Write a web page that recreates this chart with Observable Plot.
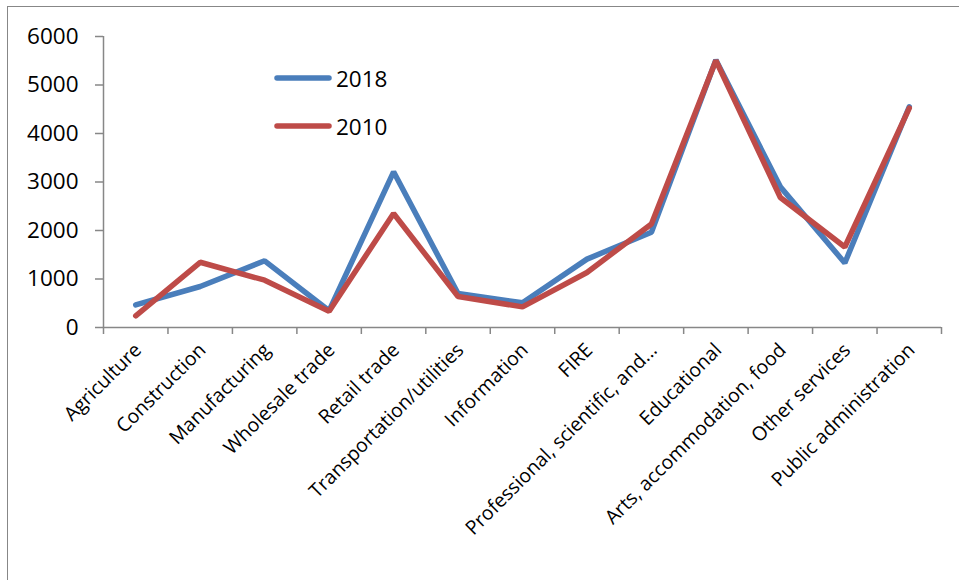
<!DOCTYPE html>
<html>
<head>
<meta charset="utf-8">
<script src="https://cdn.jsdelivr.net/npm/d3@7"></script>
<script src="https://cdn.jsdelivr.net/npm/@observablehq/plot@0.6"></script>
<style>
  html, body { margin: 0; padding: 0; background: #fff; overflow: hidden; }
  #wrap { position: relative; width: 959px; height: 580px; overflow: hidden; font-family: "Open Sans", sans-serif; }
  #frame { position: absolute; left: 7px; top: 6px; width: 1200px; height: 1200px; border: 1px solid #878787; box-sizing: border-box; pointer-events: none; }
  #chart { position: absolute; left: 0; top: 0; }
  #legend { position: absolute; left: 274px; top: 54px; font-size: 22.5px; color: #000; }
  .row { display: flex; align-items: center; height: 48px; }
  .row svg { margin-right: 4px; }
</style>
</head>
<body>
<div id="wrap">
  <div id="frame"></div>
  <div id="chart"></div>
  <div id="legend"></div>
</div>
<script>
// Employment by industry, 2018 vs 2010
const categories = [
  "Agriculture", "Construction", "Manufacturing", "Wholesale trade", "Retail trade",
  "Transportation/utilities", "Information", "FIRE", "Professional, scientific, and...",
  "Educational", "Arts, accommodation, food", "Other services", "Public administration"
];
const values2018 = [465, 845, 1375, 345, 3210, 700, 510, 1410, 1965, 5515, 2900, 1330, 4550];
const values2010 = [240, 1345, 975, 335, 2350, 640, 425, 1135, 2135, 5505, 2680, 1660, 4525];
const seriesNames = ["2018", "2010"];
const seriesColors = ["#4a7ebb", "#be4b48"];
const yTicks = [0, 1000, 2000, 3000, 4000, 5000, 6000];

const axisGray = "#878787";
const seriesValues = [values2018, values2010];
const rows = seriesNames.flatMap((name, s) =>
  seriesValues[s].map((value, i) => ({series: name, i, value}))
);
const boundaries = d3.range(categories.length + 1);

const chart = Plot.plot({
  width: 959,
  height: 580,
  marginLeft: 103,
  marginRight: 18,
  marginTop: 36,
  marginBottom: 253,
  style: {fontFamily: "'Open Sans', sans-serif", fontSize: "22.5px", color: "#000", background: "transparent"},
  x: {type: "linear", domain: [0, categories.length]},
  y: {domain: [0, 6000]},
  color: {domain: seriesNames, range: seriesColors},
  marks: [
    Plot.ruleY([0], {stroke: axisGray, strokeWidth: 1.5}),
    Plot.ruleX([0], {stroke: axisGray, strokeWidth: 1.5}),
    Plot.axisY(yTicks, {
      tickSize: 8, tickPadding: 17, tickFormat: d3.format("d"), label: null,
      stroke: axisGray, strokeWidth: 1.5, fill: "#000", fontSize: 22.5
    }),
    Plot.axisX(boundaries, {tickSize: 7, tickFormat: () => "", label: null, stroke: axisGray, strokeWidth: 1.5}),
    Plot.text(categories, {
      x: (d, i) => i + 0.5,
      frameAnchor: "bottom",
      rotate: -45,
      textAnchor: "end",
      lineAnchor: "top",
      dx: -3,
      dy: 14,
      fontSize: 19.5,
      fill: "#000"
    }),
    Plot.line(rows, {
      x: d => d.i + 0.5,
      y: "value",
      z: "series",
      stroke: "series",
      strokeWidth: 5.5,
      strokeLinejoin: "miter",
      strokeLinecap: "round"
    })
  ]
});
document.getElementById("chart").appendChild(chart);

// Legend inside the plot area
const legend = d3.select("#legend");
seriesNames.forEach((name, s) => {
  const row = legend.append("div").attr("class", "row");
  const sw = row.append("svg").attr("width", 58).attr("height", 10);
  sw.append("line")
    .attr("x1", 3).attr("x2", 55).attr("y1", 5).attr("y2", 5)
    .attr("stroke", seriesColors[s]).attr("stroke-width", 5.5).attr("stroke-linecap", "round");
  row.append("span").text(name);
});
</script>
</body>
</html>
